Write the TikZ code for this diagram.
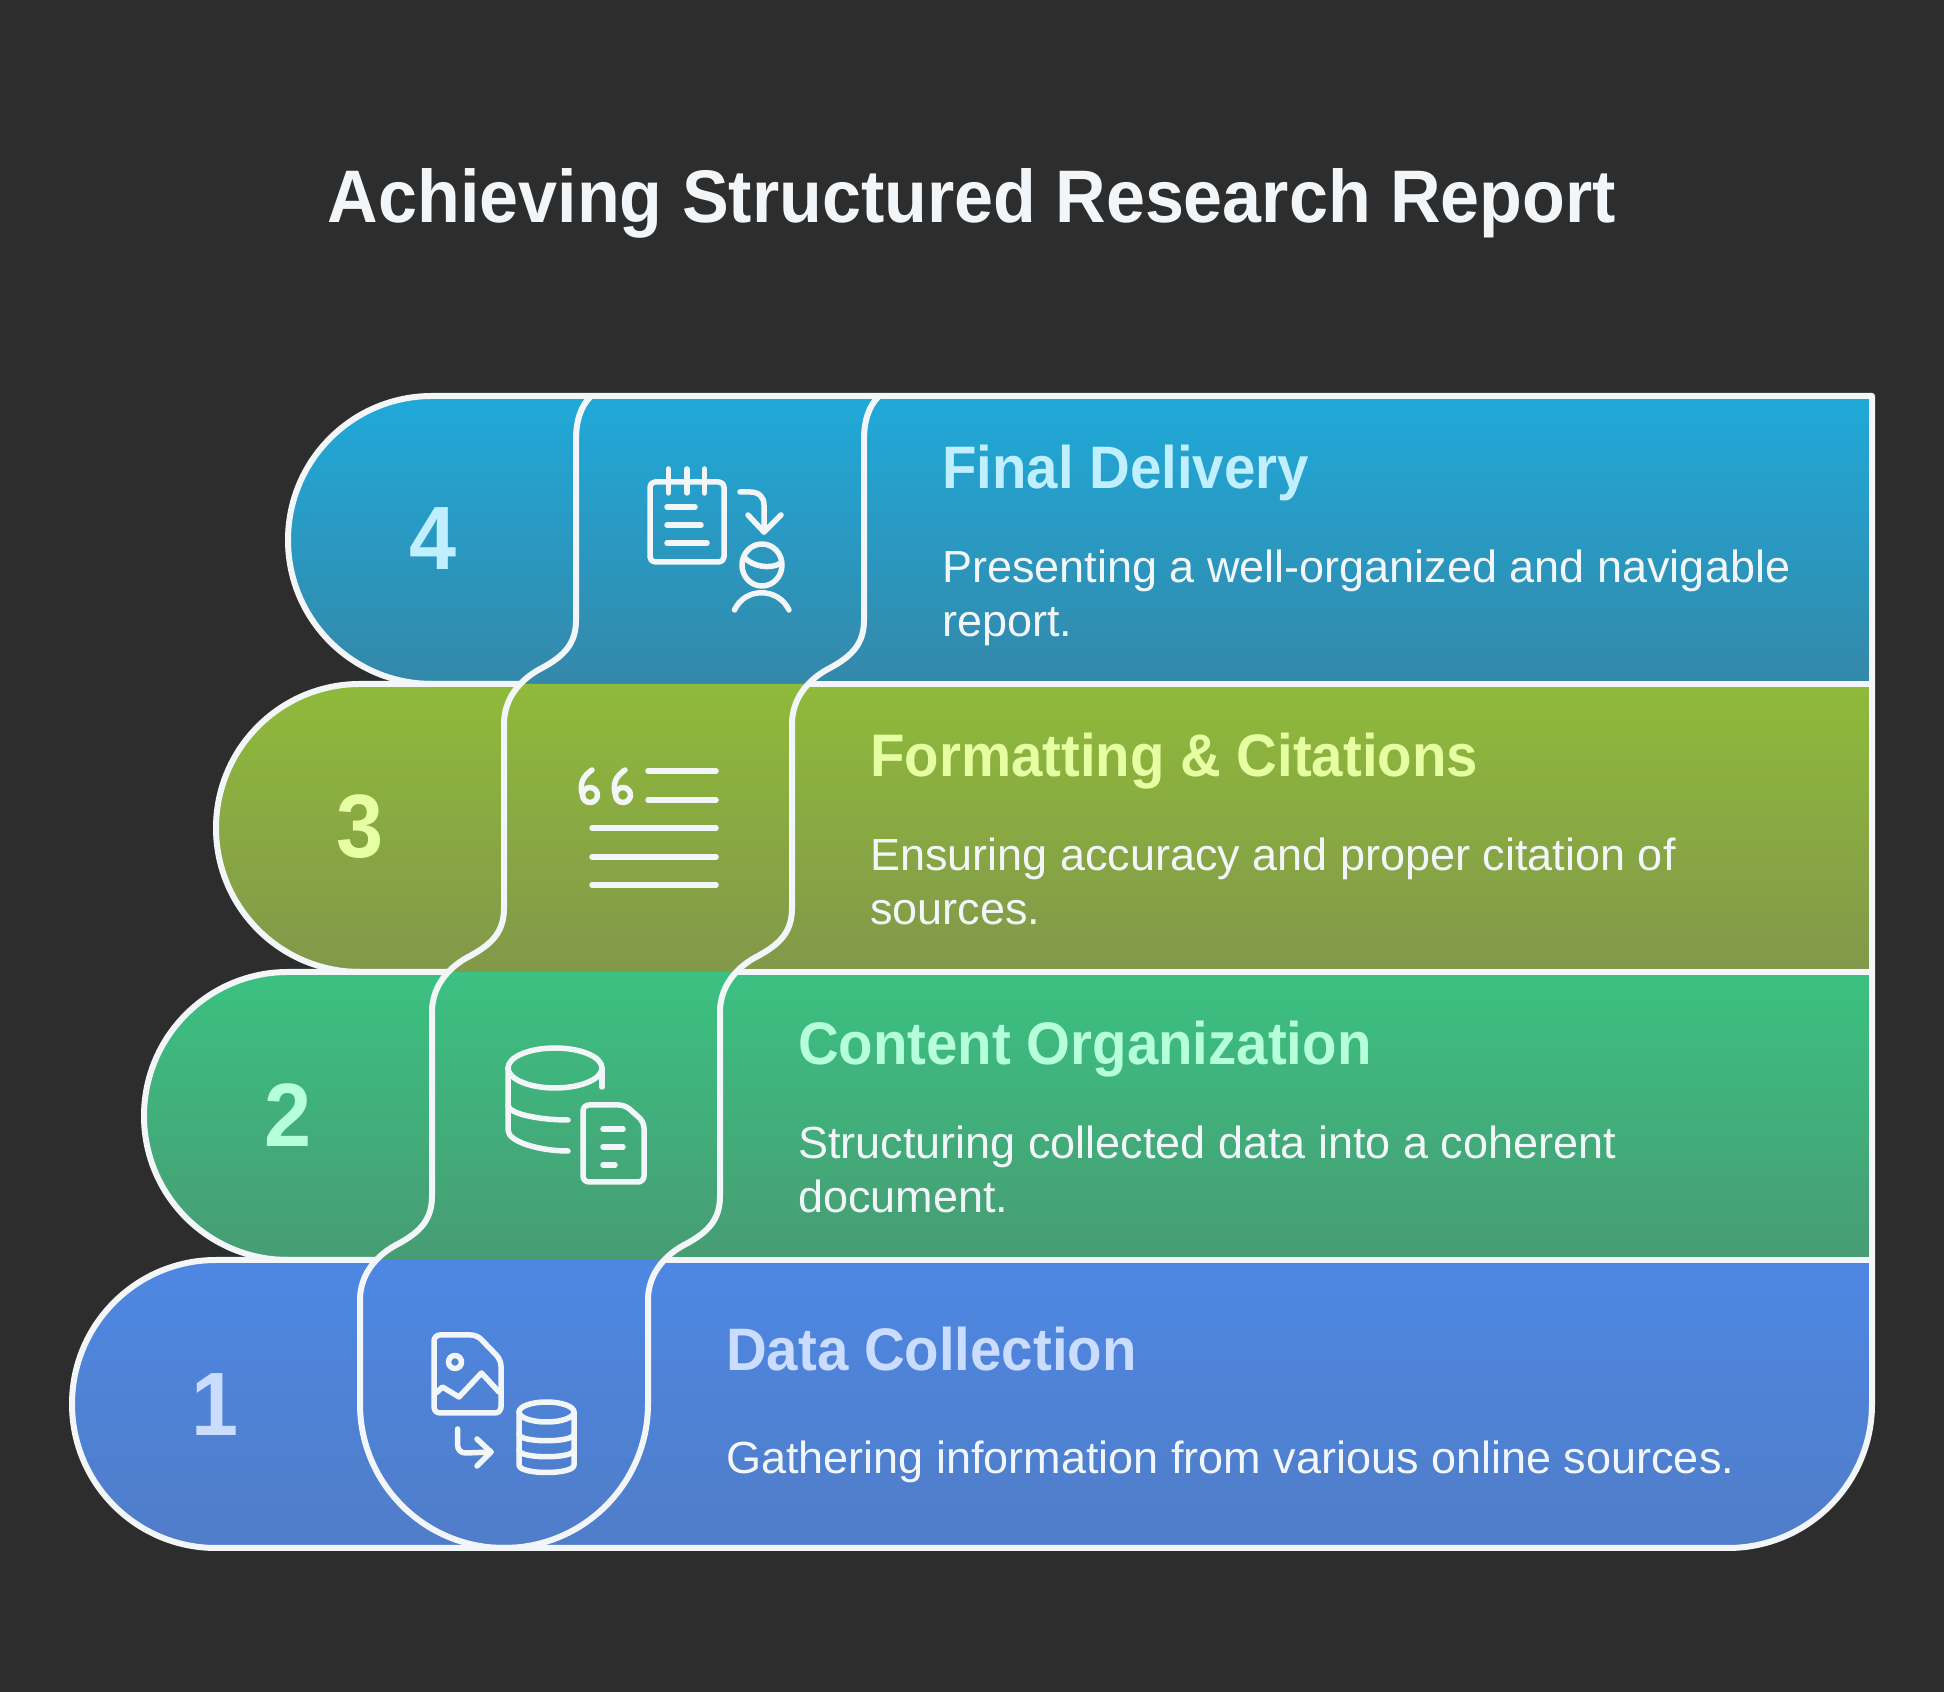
\documentclass[tikz,border=0pt]{standalone}
\usepackage{fontspec}
\setmainfont[BoldFeatures={FakeStretch=0.94}]{Liberation Sans}
\definecolor{bgdark}{HTML}{2D2D2D}
\definecolor{edgewhite}{HTML}{F2F6F8}
\definecolor{bluetop}{HTML}{4E87E3}
\definecolor{bluebot}{HTML}{507DC8}
\definecolor{greentop}{HTML}{3BC181}
\definecolor{greenbot}{HTML}{479C74}
\definecolor{olivetop}{HTML}{8FBA3A}
\definecolor{olivebot}{HTML}{82984A}
\definecolor{cyantop}{HTML}{1FA9D9}
\definecolor{cyanbot}{HTML}{3488A9}
\definecolor{numblue}{HTML}{CBDDFF}
\definecolor{numgreen}{HTML}{B5FFDB}
\definecolor{numolive}{HTML}{E6FFA3}
\definecolor{numcyan}{HTML}{C0EFFF}
\tikzset{
  edge/.style={draw=edgewhite,line width=6pt,line join=round},
  icon/.style={draw=edgewhite,line width=5.5pt,line cap=round,line join=round},
  number/.style={anchor=center,inner sep=0pt,font=\fontsize{90}{90}\selectfont\bfseries},
  heading/.style={anchor=base west,inner sep=0pt,font=\fontsize{60}{60}\selectfont\bfseries},
  body/.style={anchor=base west,inner sep=0pt,text=edgewhite,font=\fontsize{45}{45}\selectfont},
}
\begin{document}
\begin{tikzpicture}[x=1pt,y=1pt]
\useasboundingbox (0,0) rectangle (1944,1692);
\fill[bgdark] (0,0) rectangle (1944,1692);
\node[anchor=base,inner sep=0pt,text=edgewhite,font=\fontsize{74.5}{74.5}\selectfont\bfseries] (title) at (972,1469) {Achieving Structured Research Report};
% rows
\shade[top color=cyantop,bottom color=cyanbot] (288,1152) arc[start angle=180, end angle=90, radius=144] -- (1872,1296) -- (1872,1008) -- (432,1008) arc[start angle=270, end angle=180, radius=144];
\shade[top color=olivetop,bottom color=olivebot] (216,864) arc[start angle=180, end angle=90, radius=144] -- (1872,1008) -- (1872,720) -- (360,720) arc[start angle=270, end angle=180, radius=144];
\shade[top color=greentop,bottom color=greenbot] (144,576) arc[start angle=180, end angle=90, radius=144] -- (1872,720) -- (1872,432) -- (288,432) arc[start angle=270, end angle=180, radius=144];
\shade[top color=bluetop,bottom color=bluebot] (72,288) arc[start angle=180, end angle=90, radius=144] -- (1872,432) -- (1872,288) arc[start angle=0, end angle=-90, radius=144] -- (216,144) arc[start angle=270, end angle=180, radius=144];
% outline
\draw[edge] (879,1296) -- (432,1296) arc[start angle=90, end angle=270, radius=144];
\draw[edge] (520,1008) -- (360,1008) arc[start angle=90, end angle=270, radius=144];
\draw[edge] (448,720) -- (288,720) arc[start angle=90, end angle=270, radius=144];
\draw[edge] (376,432) -- (216,432) arc[start angle=90, end angle=270, radius=144] -- (1728,144) arc[start angle=-90, end angle=0, radius=144] -- (1872,1296) -- (879,1296);
\draw[edge] (808,1008) -- (1872,1008);
\draw[edge] (736,720) -- (1872,720);
\draw[edge] (664,432) -- (1872,432);
% band between the rows
\draw[edge] (591,1296) .. controls (580,1285) and (576,1270) .. (576,1252)
  \foreach \x/\y in {576/1008,504/720,432/432} {
    -- (\x,\y+64) .. controls (\x,\y+40) and (\x-12,\y+28) .. (\x-34,\y+16)
    .. controls (\x-50,\y+8) and (\x-72,\y-10) .. (\x-72,\y-40)}
  -- (360,288) arc[start angle=180, end angle=360, radius=144]
  \foreach \x/\y in {648/432,720/720,792/1008} {
    -- (\x,\y-40) .. controls (\x,\y-10) and (\x+22,\y+8) .. (\x+38,\y+16)
    .. controls (\x+60,\y+28) and (\x+72,\y+40) .. (\x+72,\y+64)}
  -- (864,1252) .. controls (864,1270) and (868,1285) .. (879,1296);
% numbers
\node[number,text=numblue] (num1) at (215,287) {1};
\node[number,text=numgreen] (num2) at (288,577) {2};
\node[number,text=numolive] (num3) at (360,865) {3};
\node[number,text=numcyan] (num4) at (433,1153) {4};
% headings
\node[heading,text=numcyan] (head4) at (942,1203) {Final Delivery};
\node[heading,text=numolive] (head3) at (870,915) {Formatting \& Citations};
\node[heading,text=numgreen] (head2) at (798,627) {Content Organization};
\node[heading,text=numblue] (head1) at (726,321) {Data Collection};
% descriptions
\node[body] (text4a) at (942,1109) {Presenting a well-organized and navigable};
\node[body] (text4b) at (942,1055) {report.};
\node[body] (text3a) at (870,821) {Ensuring accuracy and proper citation of};
\node[body] (text3b) at (870,767) {sources.};
\node[body] (text2a) at (798,533) {Structuring collected data into a coherent};
\node[body] (text2b) at (798,479) {document.};
\node[body] (text1a) at (726,218) {Gathering information from various online sources.};
% notepad and reader
\draw[icon,rounded corners=5pt] (650,1210) rectangle (724,1130);
\foreach \x in {668.5,687,704.5} \draw[icon] (\x,1223) -- (\x,1199);
\draw[icon] (667,1185) -- (695,1185);
\draw[icon] (667,1167) -- (701,1167);
\draw[icon] (667,1149) -- (707,1149);
\draw[icon] (740,1200) -- (750,1200) .. controls (759,1200) and (764,1195) .. (764,1187) -- (764,1160);
\draw[icon] (748,1177) -- (764,1160) -- (781,1177);
\draw[icon] (762,1127) ellipse[x radius=20, y radius=21];
\draw[icon] (745,1134) .. controls (752,1126) and (770,1122) .. (781,1129);
\draw[icon] (734.5,1082) .. controls (745,1105) and (778,1105) .. (789,1082);
% quote and lines
\foreach \x in {0,33} {
  \draw[icon] (590+\x,897) circle[radius=7.5];
  \draw[icon] (582.5+\x,897) .. controls (579+\x,908) and (583+\x,916) .. (592+\x,922);
}
\draw[icon] (648,921) -- (716,921);
\draw[icon] (648,892) -- (716,892);
\draw[icon] (592,864) -- (716,864);
\draw[icon] (592,835) -- (716,835);
\draw[icon] (592,807) -- (716,807);
% cylinder and page
\draw[icon] (555,624) ellipse[x radius=47, y radius=20];
\draw[icon] (508,624) -- (508,562) .. controls (508,550) and (540,541) .. (568,541);
\draw[icon] (508,587) .. controls (508,578) and (540,572) .. (568,572);
\draw[icon] (602,624) -- (602,605);
\draw[icon,rounded corners=6pt] (583,587) -- (625,587) -- (644,570) -- (644,510) -- (583,510) -- cycle;
\draw[icon] (603,563) -- (623,563);
\draw[icon] (603,545) -- (623,545);
\draw[icon] (603,527) -- (615,527);
% image and cylinder
\draw[icon,rounded corners=6pt] (434,357) -- (477,357) -- (501,332) -- (501,279) -- (434,279) -- cycle;
\draw[icon] (455,330) circle[radius=6.5];
\draw[icon] (436,299) -- (442.5,305) -- (459,295) -- (481.5,319) -- (499,300);
\draw[icon] (457.6,263) -- (457.6,247) .. controls (457.6,242) and (461,239) .. (466,239) -- (491,240);
\draw[icon] (477,253) -- (491,240) -- (477,226);
\draw[icon] (546.5,280) ellipse[x radius=27.5, y radius=10];
\draw[icon] (519,280) -- (519,227) .. controls (519,217) and (574,217) .. (574,227) -- (574,280);
\draw[icon] (519,258) .. controls (519,249) and (574,249) .. (574,258);
\draw[icon] (519,242) .. controls (519,233) and (574,233) .. (574,242);
\end{tikzpicture}
\end{document}
